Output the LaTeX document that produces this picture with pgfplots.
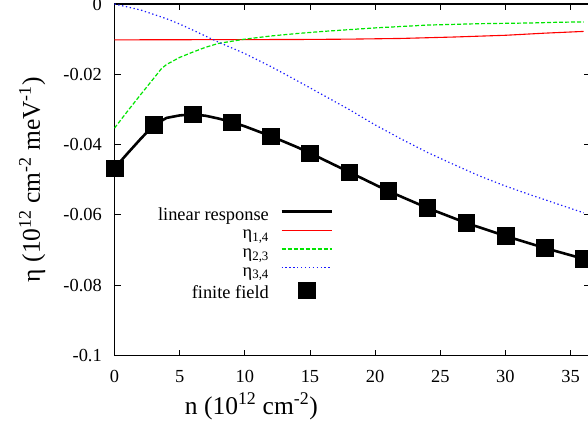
\documentclass[border=0pt]{standalone}
\usepackage{fontspec}
\setmainfont{Liberation Serif}
\usepackage{pgfplots}
\pgfplotsset{compat=1.18}
\newcommand\fs{\fontsize{18.4}{22}\selectfont}
\newcommand\fl{\fontsize{25.5}{30}\selectfont}
\definecolor{gpred}{rgb}{1,0,0}
\definecolor{gpgreen}{rgb}{0,0.9,0}
\definecolor{gpblue}{rgb}{0.1,0.1,1}
\pgfplotsset{
  gpline/.style={legend image code/.code={\draw[##1,mark=none] (0pt,5pt) -- (50pt,5pt);}},
  gpmark/.style={legend image code/.code={\draw[##1] plot coordinates {(25pt,5pt)};}},
}

\pgfplotstableread{
x y
0 -0.0467
1 -0.0425
2 -0.0384
3 -0.0345
4 -0.0324
5 -0.0317
6 -0.0314
7 -0.0318
8 -0.0326
9 -0.0336
10 -0.0348
12 -0.0376
14 -0.0407
15 -0.0424
16 -0.0442
18 -0.0478
20 -0.0514
21 -0.0532
24 -0.0580
27 -0.0623
30 -0.0660
33 -0.0694
36 -0.0725
}\linresp

\pgfplotstableread{
x y
0 -0.0467
3 -0.0343
6 -0.0314
9 -0.0336
12 -0.0376
15 -0.0424
18 -0.0478
21 -0.0532
24 -0.0580
27 -0.0623
30 -0.0660
33 -0.0694
36 -0.0725
}\finite

\pgfplotstableread{
x y
0 -0.0102
14 -0.0101
18 -0.0100
22 -0.0098
26 -0.0094
30 -0.0089
33 -0.0083
36 -0.0078
}\etaA

\pgfplotstableread{
x y
0 -0.0353
1 -0.0305
2 -0.0258
3 -0.0212
3.6 -0.0184
4 -0.0172
5 -0.0152
6 -0.0137
7 -0.0123
8 -0.0112
10 -0.0100
12 -0.0091
14 -0.0084
16 -0.0078
18 -0.0073
20 -0.0068
22 -0.0064
24 -0.0060
26 -0.0058
28 -0.0056
30 -0.0055
32 -0.0054
34 -0.0052
36 -0.0051
}\etaB

\pgfplotstableread{
x y
0 0
2 -0.0017
4 -0.0042
5 -0.0057
6 -0.0074
8 -0.0109
10 -0.0141
12 -0.0178
14 -0.0218
16 -0.0259
18 -0.0300
20 -0.0344
22 -0.0384
24 -0.0422
26 -0.0456
28 -0.0489
30 -0.0518
32 -0.0544
34 -0.0569
36 -0.0594
}\etaC

\begin{document}
\begin{tikzpicture}
\begin{axis}[
  scale only axis, width=475.6pt, height=351.5pt,
  xmin=0, xmax=36.5, ymin=-0.1, ymax=0,
  xtick={0,5,10,15,20,25,30,35},
  xticklabels={0,5,10,15,20,25,30,35},
  ytick={-0.1,-0.08,-0.06,-0.04,-0.02,0},
  yticklabels={-0.1,-0.08,-0.06,-0.04,-0.02,0},
  tick align=inside, major tick length=6pt,
  axis line style={line width=1.2pt},
  tick style={black, line width=0.8pt},
  xticklabel style={font=\fs, anchor=north, inner sep=0pt, yshift=-14.5pt},
  yticklabel style={font=\fs, anchor=east, inner sep=0pt, xshift=-12.5pt},
  xlabel={n (10\textsuperscript{12} cm\textsuperscript{-2})},
  ylabel={η (10\textsuperscript{12} cm\textsuperscript{-2} meV\textsuperscript{-1})},
  xlabel style={font=\fl, at={([yshift=-58.5pt]axis description cs:0.2877,0)}, anchor=base, inner sep=0pt},
  ylabel style={font=\fl, at={([xshift=-74.5pt]axis description cs:0,0.5)}, anchor=base, inner sep=0pt, rotate=0},
  legend style={draw=none, fill=none, at={(axis cs:16.77,-0.05775)}, anchor=north east,
    font=\fs, inner sep=0pt, row sep=0pt, column sep=11.3pt,
    nodes={inner sep=0pt, text height=13pt, text depth=5.7pt}},
  legend cell align=right, legend plot pos=right,
]
\addplot[black, line width=2.6pt, line join=round, gpline] table {\linresp};
\addlegendentry{linear response}
\addplot[gpred, line width=1.1pt, gpline] table {\etaA};
\addlegendentry{η\textsubscript{1,4}}
\addplot[gpgreen, line width=1.2pt, dash pattern=on 4pt off 2pt, gpline] table {\etaB};
\addlegendentry{η\textsubscript{2,3}}
\addplot[gpblue, line width=1.2pt, dash pattern=on 1.3pt off 2.6pt, gpline] table {\etaC};
\addlegendentry{η\textsubscript{3,4}}
\addplot[only marks, mark=square*, mark size=8.3pt, black, gpmark] table {\finite};
\addlegendentry{finite field}
\end{axis}
\pgfresetboundingbox
\useasboundingbox (-114.5pt,-69.5pt) rectangle (473.5pt,355.5pt);
\end{tikzpicture}
\end{document}
